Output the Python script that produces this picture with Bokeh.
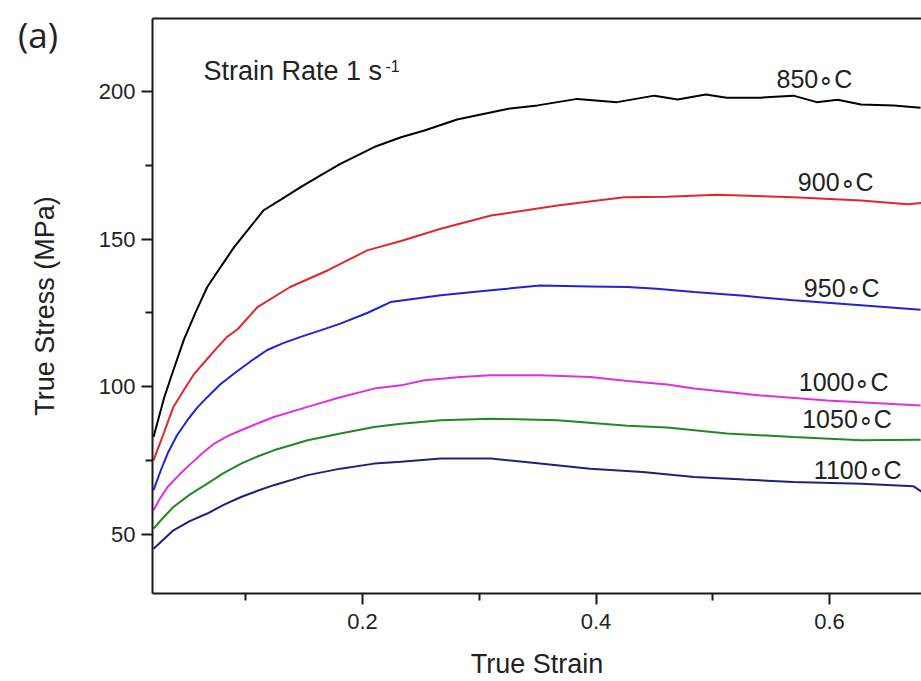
from bokeh.plotting import figure
from bokeh.models import Range1d, FixedTicker, LinearAxis, Label
from bokeh.core.properties import value
from bokeh.embed import file_html
from bokeh.resources import INLINE

# Flow curves at strain rate 1 s^-1, one per deformation temperature
strain_850 = [0.021, 0.030, 0.037, 0.047, 0.057, 0.067, 0.078, 0.090, 0.102, 0.115, 0.130, 0.147,
              0.164, 0.181, 0.210, 0.233, 0.253, 0.281, 0.324, 0.350, 0.384, 0.418, 0.450, 0.470,
              0.494, 0.512, 0.541, 0.569, 0.589, 0.607, 0.627, 0.655, 0.678]
stress_850 = [83.0, 96.2, 104.5, 116.0, 125.2, 133.8, 140.3, 147.3, 153.2, 159.7, 163.4, 167.6,
              171.6, 175.5, 181.2, 184.5, 186.8, 190.5, 194.1, 195.3, 197.5, 196.4, 198.6, 197.3,
              199.0, 197.9, 197.9, 198.6, 196.4, 197.2, 195.6, 195.3, 194.5]

strain_900 = [0.021, 0.030, 0.038, 0.047, 0.056, 0.066, 0.076, 0.084, 0.093, 0.110, 0.138, 0.170,
              0.204, 0.233, 0.267, 0.310, 0.367, 0.424, 0.461, 0.504, 0.569, 0.627, 0.667, 0.679]
stress_900 = [75.1, 84.6, 93.2, 98.9, 104.5, 109.0, 113.5, 116.9, 119.5, 127.0, 133.8, 139.4,
              146.2, 149.4, 153.5, 158.0, 161.4, 164.2, 164.4, 165.0, 164.2, 163.1, 161.8, 162.3]

strain_950 = [0.021, 0.027, 0.033, 0.041, 0.050, 0.058, 0.067, 0.078, 0.090, 0.104, 0.118, 0.132,
              0.147, 0.164, 0.181, 0.204, 0.224, 0.267, 0.310, 0.352, 0.395, 0.427, 0.452, 0.484,
              0.527, 0.569, 0.627, 0.678]
stress_950 = [65.0, 71.5, 77.4, 83.5, 88.7, 92.8, 96.5, 100.8, 104.5, 108.6, 112.4, 114.8,
              116.9, 119.1, 121.4, 125.0, 128.7, 131.0, 132.7, 134.3, 134.0, 133.8, 133.2, 132.1,
              130.8, 129.3, 127.6, 126.1]

strain_1000 = [0.021, 0.027, 0.033, 0.043, 0.053, 0.063, 0.073, 0.084, 0.096, 0.110, 0.124, 0.153,
               0.181, 0.210, 0.233, 0.253, 0.284, 0.310, 0.352, 0.395, 0.427, 0.461, 0.484, 0.541,
               0.598, 0.678]
stress_1000 = [58.2, 62.5, 66.1, 70.2, 74.0, 77.6, 80.8, 83.2, 85.3, 87.6, 89.8, 93.2,
               96.5, 99.4, 100.5, 102.2, 103.3, 103.9, 103.9, 103.3, 102.0, 100.8, 99.4, 97.1,
               95.4, 93.7]

strain_1050 = [0.021, 0.030, 0.038, 0.052, 0.067, 0.081, 0.096, 0.110, 0.124, 0.153, 0.181, 0.210,
               0.233, 0.267, 0.310, 0.367, 0.427, 0.461, 0.512, 0.569, 0.627, 0.678]
stress_1050 = [52.0, 56.0, 59.3, 63.5, 67.2, 70.8, 74.0, 76.4, 78.5, 81.9, 84.2, 86.4,
               87.5, 88.7, 89.2, 88.7, 86.8, 86.2, 84.2, 83.0, 81.9, 82.1]

strain_1100 = [0.021, 0.030, 0.038, 0.052, 0.067, 0.081, 0.096, 0.110, 0.124, 0.153, 0.181, 0.210,
               0.233, 0.267, 0.310, 0.352, 0.395, 0.440, 0.484, 0.527, 0.569, 0.627, 0.672, 0.679]
stress_1100 = [45.2, 48.5, 51.4, 54.5, 57.1, 60.0, 62.7, 64.8, 66.7, 70.1, 72.3, 74.0,
               74.6, 75.7, 75.7, 74.0, 72.3, 71.2, 69.5, 68.6, 67.8, 67.2, 66.3, 64.5]

curve_labels = ["850\u2218C", "900\u2218C", "950\u2218C", "1000\u2218C", "1050\u2218C", "1100\u2218C"]

x_ticks = [0.2, 0.4, 0.6]
x_minor = [0.1, 0.3, 0.5, 0.7]
y_ticks = [50, 100, 150, 200]
y_minor = [75, 125, 175]

FONT = "Liberation Sans"
INK = "#222222"

p = figure(width=921, height=681, output_backend="svg", toolbar_location=None,
           x_range=Range1d(0.0201, 0.6788), y_range=Range1d(30.02, 224.72),
           min_border_left=152, min_border_right=0, min_border_top=18, min_border_bottom=88,
           x_axis_label="True Strain", y_axis_label="True Stress (MPa)")
p.outline_line_color = None
p.grid.visible = False
p.background_fill_color = "white"
p.border_fill_color = "white"

p.xaxis.ticker = FixedTicker(ticks=x_ticks, minor_ticks=x_minor)
p.yaxis.ticker = FixedTicker(ticks=y_ticks, minor_ticks=y_minor)

for ax in (p.xaxis[0], p.yaxis[0]):
    ax.axis_line_width = 2
    ax.axis_line_color = "#1a1a1a"
    ax.major_tick_line_width = 2
    ax.minor_tick_line_width = 2
    ax.major_tick_line_color = "#1a1a1a"
    ax.minor_tick_line_color = "#1a1a1a"
    ax.major_tick_in = 0
    ax.minor_tick_in = 0
    ax.major_tick_out = 11
    ax.minor_tick_out = 7
    ax.major_label_text_font = FONT
    ax.major_label_text_font_size = "22px"
    ax.major_label_text_color = INK
    ax.axis_label_text_font = FONT
    ax.axis_label_text_font_size = "27px"
    ax.axis_label_text_font_style = "normal"
    ax.axis_label_text_color = INK

p.yaxis.major_label_standoff = 6
p.yaxis.axis_label_standoff = 36
p.xaxis.major_label_standoff = 9
p.xaxis.axis_label_standoff = 17

# frame top edge
top = LinearAxis(ticker=FixedTicker(ticks=[]), axis_line_width=2, axis_line_color="#1a1a1a",
                 major_tick_line_color=None, minor_tick_line_color=None,
                 major_label_text_color=None)
p.add_layout(top, "above")

series = [
    (strain_850, stress_850, "#000000"),
    (strain_900, stress_900, "#e3262b"),
    (strain_950, stress_950, "#2222d6"),
    (strain_1000, stress_1000, "#e02fe0"),
    (strain_1050, stress_1050, "#1f8a22"),
    (strain_1100, stress_1100, "#20207a"),
]
for xs, ys, c in series:
    p.line(xs, ys, line_color=c, line_width=2)

label_pos = [(0.5546, 204.3), (0.5729, 169.5), (0.5780, 133.4),
             (0.5737, 101.7), (0.5766, 89.2), (0.5866, 72.0)]
for txt, (lx, ly) in zip(curve_labels, label_pos):
    p.add_layout(Label(x=lx, y=ly, text=txt, text_font=FONT, text_font_size="25px",
                       text_color=INK, text_baseline="middle", text_align="left"))

p.add_layout(Label(x=0.0638, y=206.8, text="Strain Rate 1 s", text_font=FONT,
                   text_font_size="27px", text_color=INK, text_baseline="middle"))
p.add_layout(Label(x=0.2197, y=208.8, text="-1", text_font=FONT,
                   text_font_size="16px", text_color=INK, text_baseline="middle"))

# panel tag in the top-left corner, outside the frame (overlay level is not clipped)
p.text(x=[-0.0779], y=[219.4], text=["(a)"], text_font=value("Open Sans"),
       text_font_size="35px", text_color=INK, text_align="center",
       text_baseline="middle", level="overlay")

open("out.html", "w").write(file_html(p, INLINE))
